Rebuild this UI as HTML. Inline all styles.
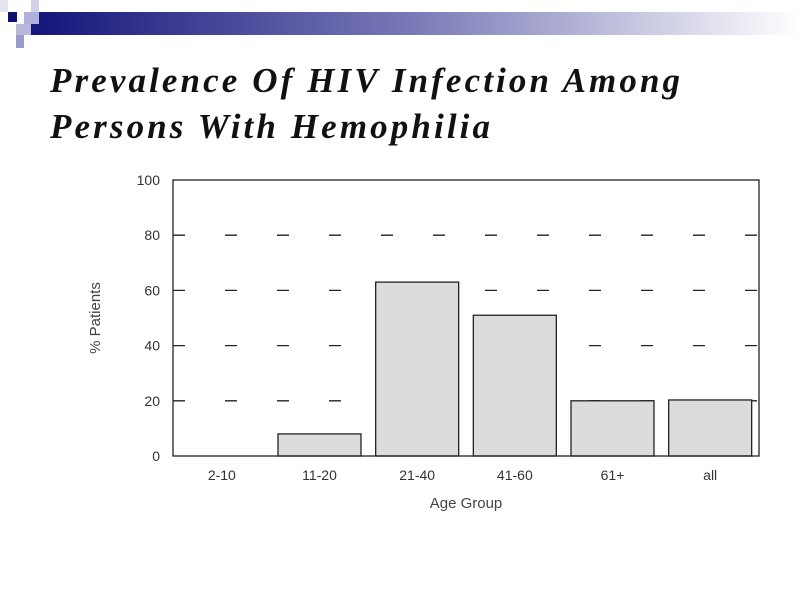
<!DOCTYPE html>
<html><head><meta charset="utf-8"><style>body{margin:0;background:#fff}svg{display:block}</style></head>
<body>
<svg width="800" height="600" viewBox="0 0 800 600" font-family="Liberation Sans, sans-serif">
<defs><linearGradient id="hg" x1="0" x2="1" y1="0" y2="0"><stop offset="0" stop-color="#14147a"/><stop offset="0.5" stop-color="#7a7ab8"/><stop offset="1" stop-color="#ffffff"/></linearGradient></defs>
<g>
<rect x="30" y="12" width="770" height="23" fill="url(#hg)"/>
<rect x="0" y="0" width="8" height="12" fill="#e4e4f0"/>
<rect x="8" y="12" width="9" height="10" fill="#101070"/>
<rect x="24" y="12" width="15" height="12" fill="#b0b0d8"/>
<rect x="16" y="24" width="15" height="11" fill="#b8b8dc"/>
<rect x="16" y="35" width="8" height="13" fill="#9a9acc"/>
<rect x="31" y="0" width="8" height="12" fill="#d0d0e8"/>
</g>
<g font-family="Liberation Serif, serif" font-weight="bold" font-style="italic" font-size="35" fill="#111">
<text x="50" y="92" textLength="630" lengthAdjust="spacing">Prevalence Of HIV Infection Among</text>
<text x="50" y="138" textLength="440" lengthAdjust="spacing">Persons With Hemophilia</text>
</g>
<g id="chart"></g>
</svg>
<script>
const categories = ["2-10","11-20","21-40","41-60","61+","all"];
const values = [0,8,63,51,20,20.3];
const yTicks = [0,20,40,60,80,100];
const gridLevels = [20,40,60,80];
const L=173,T=180,R=759,B=456;
const y=v=>B-(B-T)*v/100;
const slot=(R-L)/categories.length;
const cx=i=>L+slot*(i+0.5);
const NS="http://www.w3.org/2000/svg";
const g=document.getElementById('chart');
function mk(t,a,p){const e=document.createElementNS(NS,t);for(const k in a)e.setAttribute(k,a[k]);(p||g).appendChild(e);return e;}
gridLevels.forEach(v=>{
 const e=mk('line',{x1:L,x2:R,y1:y(v),y2:y(v),stroke:'#222','stroke-width':1.3,'stroke-dasharray':'12 40'});
 
 
});
categories.forEach((c,i)=>{
 if(values[i]>0){
  const bw=83;
  const r=mk('rect',{x:cx(i)-bw/2,y:y(values[i]),width:bw,height:B-y(values[i]),fill:'#dcdcdc',stroke:'#222','stroke-width':1.3});
  
  
 }
 const t=mk('text',{x:cx(i),y:480,'text-anchor':'middle','font-size':14,fill:'#333'});
 t.textContent=c;
 
 
});
yTicks.forEach(v=>{
 const t=mk('text',{x:160,y:y(v)+5,'text-anchor':'end','font-size':14,fill:'#333'});
 t.textContent=v;
 
 
});
const box=mk('rect',{x:L,y:T,width:R-L,height:B-T,fill:'none',stroke:'#222','stroke-width':1.3});


const xt=mk('text',{x:466,y:508,'text-anchor':'middle','font-size':15,fill:'#444'});
xt.textContent='Age Group';


const yt=mk('text',{x:0,y:0,'text-anchor':'middle','font-size':15,fill:'#444',transform:'translate(100,318) rotate(-90)'});
yt.textContent='% Patients';


</script>
</body></html>
